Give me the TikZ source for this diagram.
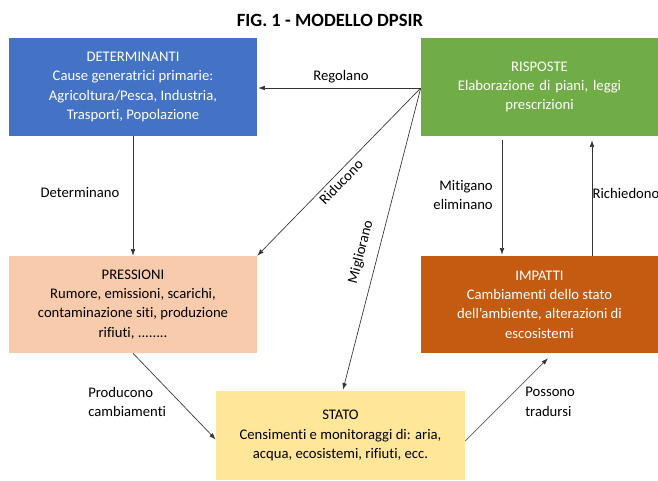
\documentclass[tikz,border=0pt]{standalone}
\usepackage{fontspec}
\setmainfont{Carlito}[Ligatures=NoCommon]
\usetikzlibrary{arrows.meta,calc}
\definecolor{detblue}{HTML}{4472C4}
\definecolor{risgreen}{HTML}{70AD47}
\definecolor{prepeach}{HTML}{F8CBAD}
\definecolor{imporange}{HTML}{C55A11}
\definecolor{statyellow}{HTML}{FFE699}
\tikzset{
  boxdp/.style={rectangle,inner sep=2pt,align=center,font=\fontsize{11}{14.5}\selectfont},
  linkarr/.style={-{Latex[length=5pt,width=3.5pt]},line width=0.5pt,black!80},
  linklab/.style={font=\fontsize{11}{14.5}\selectfont,inner sep=0pt}
}
\begin{document}
\begin{tikzpicture}[x=0.75pt,y=-0.75pt]
                \useasboundingbox (0,0) rectangle (658,480);
                \node[font=\fontsize{14}{16}\selectfont\bfseries] (title) at (330,20) {FIG. 1 - MODELLO DPSIR};
                \node[boxdp,fill=detblue,text=white,minimum width=186pt,minimum height=73.5pt] (det) at (133,87)
                  {DETERMINANTI\\Cause generatrici primarie:\\Agricoltura/Pesca, Industria,\\Trasporti, Popolazione};
                \node[boxdp,fill=risgreen,text=white,minimum width=177.75pt,minimum height=73.5pt,text width=165pt] (ris) at (539.5,87)
                  {RISPOSTE\\Elaborazione di piani, leggi\\prescrizioni};
                \node[boxdp,fill=prepeach,minimum width=186pt,minimum height=72.75pt] (pre) at (133,304.5)
                  {PRESSIONI\\Rumore, emissioni, scarichi,\\contaminazione siti, produzione\\rifiuti, ........};
                \node[boxdp,fill=imporange,text=white,minimum width=177.75pt,minimum height=72.75pt] (imp) at (539.5,304.5)
                  {IMPATTI\\Cambiamenti dello stato\\dell'ambiente, alterazioni di\\escosistemi};
                \node[boxdp,fill=statyellow,minimum width=186.75pt,minimum height=66.75pt] (sta) at (340.5,435.5)
                  {STATO\\Censimenti e monitoraggi di: aria,\\acqua, ecosistemi, rifiuti, ecc.};
                % connettori
                \coordinate (risw) at ($(ris.west)+(0,1)$);
                \draw[linkarr] (risw) -- ($(det.east)+(1,1)$);
                \draw[linkarr] (risw) -- (pre.north east);
                \draw[linkarr] (risw) -- ($(sta.north)+(2.5,-1)$);
                \draw[linkarr] (det.south) -- (pre.north);
                \draw[linkarr] ($(ris.south)+(-37.5,4)$) -- ($(imp.north)+(-37.5,-1)$);
                \draw[linkarr] ($(imp.north)+(52.5,0)$) -- ($(ris.south)+(52.5,4)$);
                \draw[linkarr] (pre.south) -- ($(sta.west)+(0,4)$);
                \draw[linkarr] ($(sta.east)+(0,5.5)$) -- ($(imp.south)+(8.5,5)$);
                % etichette
                \node[linklab] (regolano) at (341,77) {Regolano};
                \node[linklab,rotate=46] (riducono) at (341,182) {Riducono};
                \node[linklab,rotate=75.5] (migliorano) at (361,252) {Migliorano};
                \node[linklab] (determinano) at (80,193) {Determinano};
                \node[linklab,align=right,anchor=east] (mitigano) at (493,195) {Mitigano\\eliminano};
                \node[linklab] (richiedono) at (626,193) {Richiedono};
                \node[linklab,align=left,anchor=west] (producono) at (88,402) {Producono\\cambiamenti};
                \node[linklab,align=left,anchor=west] (possono) at (525,402) {Possono\\tradursi};
            \end{tikzpicture}
\end{document}
